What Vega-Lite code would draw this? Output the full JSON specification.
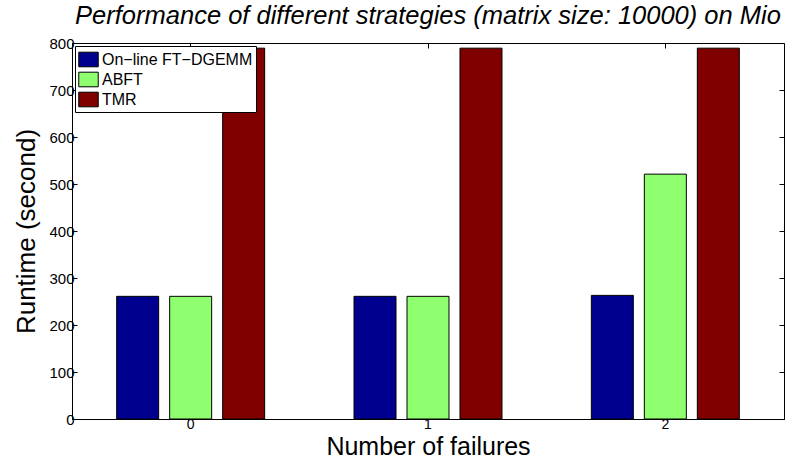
{
  "$schema": "https://vega.github.io/schema/vega-lite/v6.json",
  "width": 712,
  "height": 376,
  "autosize": {"type": "none"},
  "padding": {"left": 72, "top": 43, "right": 7, "bottom": 44},
  "background": "white",
  "config": {
    "font": "Liberation Sans",
    "view": {"stroke": "black", "strokeWidth": 1},
    "axis": {"grid": false, "domainColor": "black", "tickColor": "black", "labelColor": "black", "titleColor": "black", "labelFont": "Liberation Sans", "titleFont": "Liberation Sans", "titleFontWeight": "normal"}
  },
  "title": {
    "text": "Performance of different strategies (matrix size: 10000) on Mio",
    "fontSize": 25.5,
    "fontStyle": "italic",
    "fontWeight": "normal",
    "font": "Liberation Sans",
    "anchor": "middle",
    "frame": "group",
    "offset": 7,
    "color": "black"
  },
  "data": {
    "values": [
      {"failures": "0", "strategy": "On−line FT−DGEMM", "runtime": 261},
      {"failures": "0", "strategy": "ABFT", "runtime": 261},
      {"failures": "0", "strategy": "TMR", "runtime": 789},
      {"failures": "1", "strategy": "On−line FT−DGEMM", "runtime": 261},
      {"failures": "1", "strategy": "ABFT", "runtime": 261},
      {"failures": "1", "strategy": "TMR", "runtime": 789},
      {"failures": "2", "strategy": "On−line FT−DGEMM", "runtime": 263},
      {"failures": "2", "strategy": "ABFT", "runtime": 521},
      {"failures": "2", "strategy": "TMR", "runtime": 789}
    ]
  },
  "layer": [
    {
      "mark": {"type": "bar", "stroke": "black", "strokeWidth": 1},
      "encoding": {
        "x": {
          "field": "failures", "type": "nominal",
          "scale": {"paddingInner": 0, "paddingOuter": 0},
          "axis": {"orient": "bottom", "title": "Number of failures", "titleFontSize": 25, "titlePadding": 3, "labelFontSize": 14, "labelAngle": 0, "tickSize": -5, "labelPadding": 3}
        },
        "xOffset": {
          "field": "strategy", "type": "nominal",
          "sort": ["On−line FT−DGEMM", "ABFT", "TMR"],
          "scale": {"paddingInner": 0.2075, "paddingOuter": 0.843}
        },
        "y": {
          "field": "runtime", "type": "quantitative",
          "scale": {"domain": [0, 800], "nice": false},
          "axis": {"orient": "left", "title": "Runtime (second)", "titleFontSize": 26, "titlePadding": 9, "labelFontSize": 15, "values": [0, 100, 200, 300, 400, 500, 600, 700, 800], "tickSize": -5, "labelPadding": 3}
        },
        "color": {
          "field": "strategy", "type": "nominal",
          "sort": ["On−line FT−DGEMM", "ABFT", "TMR"],
          "scale": {"domain": ["On−line FT−DGEMM", "ABFT", "TMR"], "range": ["#00008F", "#8FFF70", "#800000"]},
          "legend": {
            "title": null,
            "orient": "none",
            "legendX": 3,
            "legendY": 3,
            "direction": "vertical",
            "strokeColor": "black",
            "fillColor": "white",
            "padding": 3,
            "rowPadding": -1,
            "symbolType": "M-1,-0.75H1V0.75H-1Z",
            "symbolSize": 380,
            "symbolStrokeColor": "black",
            "symbolStrokeWidth": 1,
            "symbolOpacity": 1,
            "labelFontSize": 16,
            "labelFont": "Liberation Sans",
            "labelColor": "black",
            "labelOffset": 3,
            "labelLimit": 300
          }
        }
      }
    },
    {
      "mark": {"type": "bar", "opacity": 0},
      "encoding": {
        "x": {
          "field": "failures", "type": "nominal",
          "axis": {"orient": "top", "title": null, "labels": false, "domain": false, "tickSize": -5}
        },
        "xOffset": {"field": "strategy", "type": "nominal", "sort": ["On−line FT−DGEMM", "ABFT", "TMR"]},
        "y": {
          "field": "runtime", "type": "quantitative",
          "axis": {"orient": "right", "title": null, "labels": false, "domain": false, "tickSize": -5, "values": [0, 100, 200, 300, 400, 500, 600, 700, 800]}
        }
      }
    }
  ],
  "resolve": {"axis": {"x": "independent", "y": "independent"}}
}
